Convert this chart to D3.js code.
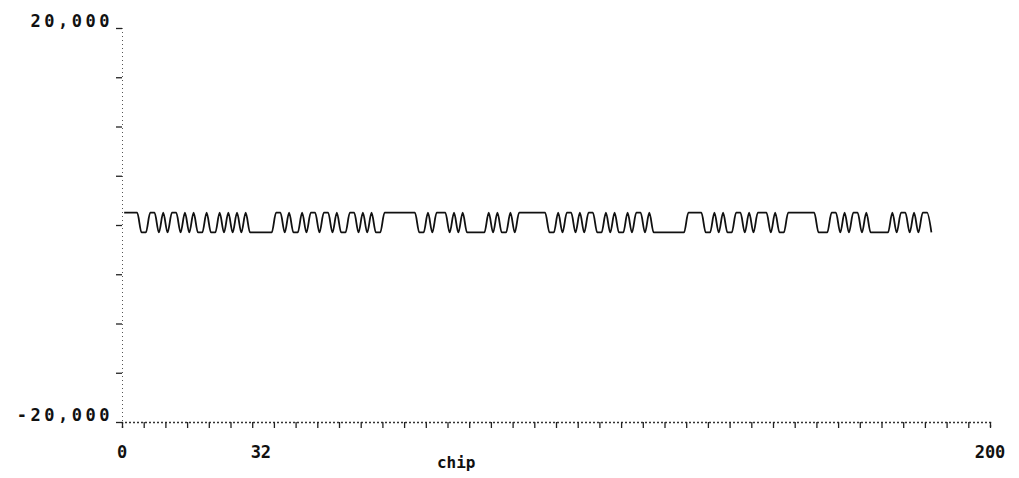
<!DOCTYPE html>
<html>
<head>
<meta charset="utf-8">
<script src="https://cdn.jsdelivr.net/npm/d3@7"></script>
<style>
  html, body { margin: 0; padding: 0; background: #fff; }
  #chart { width: 1019px; height: 478px; }
  text { font-family: "DejaVu Sans Mono", monospace; font-weight: bold; fill: #111; }
</style>
</head>
<body>
<div id="chart"></div>
<script>
// chip levels (1 = high, 0 = low), one per chip
const chipBits = [
  1,1,1,1,0,0,1,1,0,1,
  0,1,1,0,1,0,1,0,0,1,
  0,0,1,0,1,0,1,0,1,0,
  0,0,0,0,0,1,1,0,1,0,
  0,1,0,1,1,0,1,1,0,1,
  0,0,1,1,0,1,0,1,0,0,
  1,1,1,1,1,1,1,1,0,0,
  1,0,1,1,1,0,1,0,1,0,
  0,0,0,0,1,0,1,0,0,1,
  0,1,1,1,1,1,1,1,0,0,
  1,0,1,1,0,1,0,1,1,0,
  0,1,0,1,0,0,1,0,1,1,
  0,1,0,0,0,0,0,0,0,0,
  1,1,1,1,0,0,1,0,1,0,
  0,1,1,0,1,0,1,1,1,0,
  1,0,0,1,1,1,1,1,1,1,
  0,0,0,1,1,0,1,0,1,1,
  0,1,0,0,0,0,0,1,0,1,
  1,0,1,0,1,1,0
];
const signalHigh = 1250;   // value of a high chip
const signalLow = -750;    // value of a low chip

const xDomain = [0, 200];
const yDomain = [-20000, 20000];
const xTickLabels = [0, 32, 200];
const yTickLabels = [20000, -20000];
const xLabel = "chip";

const margin = { top: 28, right: 29, bottom: 56, left: 122 };
const W = 1019, H = 478;
const width = W - margin.left - margin.right;
const height = H - margin.top - margin.bottom;

const svg = d3.select("#chart").append("svg")
    .attr("width", W)
    .attr("height", H)
    .append("g")
    .attr("transform", `translate(${margin.left},${margin.top})`);

const x = d3.scaleLinear().domain(xDomain).range([0, width]);
const y = d3.scaleLinear().domain(yDomain).range([height, 0]);

// y axis: faint dotted spine, short ticks to the left
const yAxis = svg.append("g")
    .call(d3.axisLeft(y).ticks(10).tickSize(6).tickFormat(""));
yAxis.select(".domain").attr("stroke", "#555").attr("stroke-dasharray", "1,3");
yAxis.selectAll(".tick line").attr("stroke", "#222").attr("stroke-width", 1.3);

// x axis: dotted line with a tick every 5 chips
const xAxis = svg.append("g")
    .attr("transform", `translate(0,${height})`)
    .call(d3.axisBottom(x).tickValues(d3.range(0, 201, 5)).tickSize(6).tickFormat(""));
xAxis.select(".domain").attr("stroke", "#333").attr("stroke-dasharray", "2,2").attr("stroke-width", 1.3);
xAxis.selectAll(".tick line").attr("stroke", "#222").attr("stroke-width", 1.3);

// tick labels
svg.selectAll(".xlab").data(xTickLabels).enter().append("text")
    .attr("class", "xlab")
    .attr("x", d => x(d))
    .attr("y", height + 36)
    .attr("text-anchor", "middle")
    .style("font-size", "17px")
    .text(d => d);

svg.selectAll(".ylab").data(yTickLabels).enter().append("text")
    .attr("class", "ylab")
    .attr("x", -9)
    .attr("y", d => y(d) - 1)
    .attr("text-anchor", "end")
    .style("font-size", "17px")
    .style("letter-spacing", "3.5px")
    .text(d => d3.format(",")(d).replace("\u2212", "-"));

svg.append("text")
    .attr("x", x(77))
    .attr("y", height + 46)
    .attr("text-anchor", "middle")
    .style("font-size", "16px")
    .text(xLabel);

// the chip trace
const trace = chipBits.map((b, i) => ({ chip: i + 0.5, value: b ? signalHigh : signalLow }));
svg.append("path")
    .datum(trace)
    .attr("fill", "none")
    .attr("stroke", "#111")
    .attr("stroke-width", 1.8)
    .attr("d", d3.line().curve(d3.curveMonotoneX).x(d => x(d.chip)).y(d => y(d.value)));
</script>
</body>
</html>
